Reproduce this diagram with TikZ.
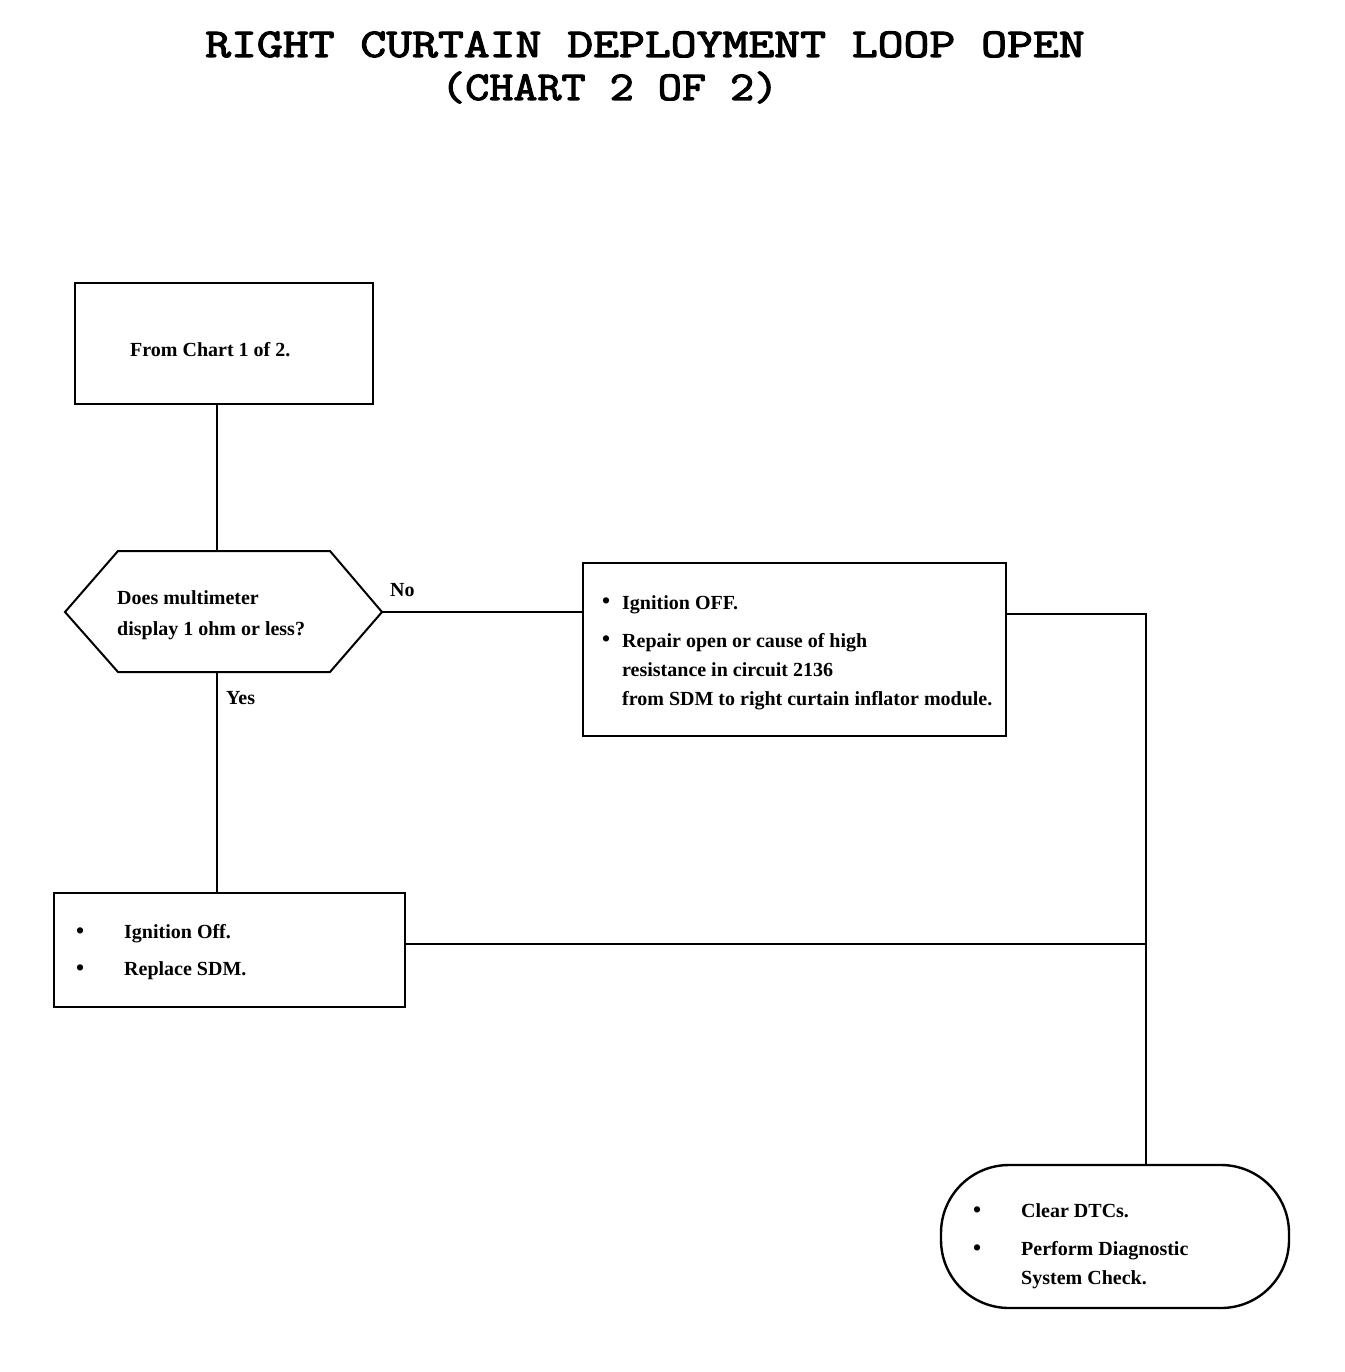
\documentclass[tikz,border=0pt]{standalone}
\usepackage{fontspec}
\setmainfont{Liberation Serif}
\newfontfamily\titlefont{Latin Modern Mono}[FakeBold=2.5]
\usepackage{graphicx}
\begin{document}
\begin{tikzpicture}[x=1pt,y=-1pt,
  box/.style={draw, line width=2pt, rectangle, inner sep=0pt},
  termbox/.style={draw, line width=2.4pt, rectangle, rounded corners=68pt, inner sep=0pt},
  conn/.style={line width=1.4pt},
  txt/.style={anchor=base west, inner sep=0pt, font=\fontsize{20}{24}\bfseries\selectfont},
  bul/.style={anchor=base west, inner sep=0pt, font=\fontsize{23}{24}\bfseries\selectfont},
  ttl/.style={inner sep=0pt, anchor=base west, font=\fontsize{41}{48}\titlefont\selectfont}]
\useasboundingbox (0,0) rectangle (1344,1372);
% title
\node[ttl] (title1) at (205,57) {\scalebox{1.225}[1]{RIGHT CURTAIN DEPLOYMENT LOOP OPEN}};
\node[ttl] (title2) at (441,100) {\scalebox{1.14}[1]{(CHART 2 OF 2)}};
% shapes
\node[box, minimum width=298pt, minimum height=121pt] (start) at (224,343.5) {};
\coordinate (hexL) at (65,612);
\coordinate (hexR) at (382,612);
\coordinate (hexT) at (217,551);
\coordinate (hexB) at (217,672);
\draw[line width=2pt, line join=miter] (hexL) -- (118,551) -- (330,551) -- (hexR) -- (330,672) -- (118,672) -- cycle;
\node[box, minimum width=423pt, minimum height=173pt] (repair) at (794.5,649.5) {};
\node[box, minimum width=351pt, minimum height=114pt] (replace) at (229.5,950) {};
\node[termbox, minimum width=348pt, minimum height=143pt] (clear) at (1115,1236.5) {};
% texts
\node[txt] (t1) at (130,356) {From Chart 1 of 2.};
\node[txt] (q1) at (117,604) {Does multimeter};
\node[txt] (q2) at (117,635) {display 1 ohm or less?};
\node[txt] (no) at (390,596) {No};
\node[txt] (yes) at (226,704) {Yes};
\node[bul] (b21) at (602,608) {•};
\node[txt] (r1) at (622,609) {Ignition OFF.};
\node[bul] (b22) at (602,646) {•};
\node[txt] (r2) at (622,647) {Repair open or cause of high};
\node[txt] (r3) at (622,676) {resistance in circuit 2136};
\node[txt] (r4) at (622,705) {from SDM to right curtain inflator module.};
\node[bul] (b31) at (76,938) {•};
\node[txt] (s1) at (124,938) {Ignition Off.};
\node[bul] (b32) at (76,975) {•};
\node[txt] (s2) at (124,975) {Replace SDM.};
\node[bul] (b41) at (973,1217) {•};
\node[txt] (c1) at (1021,1217) {Clear DTCs.};
\node[bul] (b42) at (973,1255) {•};
\node[txt] (c2) at (1021,1255) {Perform Diagnostic};
\node[txt] (c3) at (1021,1284) {System Check.};
% connectors
\coordinate (j1) at (1146,614);
\coordinate (j2) at (1146,944);
\coordinate (cTop) at (1146,1165);
\draw[conn] (start.south -| hexT) -- (hexT);
\draw[conn] (hexR) -- (hexR -| repair.west);
\draw[conn] (hexB) -- (hexB |- replace.north);
\draw[conn] (repair.east |- j1) -- (j1) -- (cTop);
\draw[conn] (replace.east |- j2) -- (j2);
\end{tikzpicture}
\end{document}
